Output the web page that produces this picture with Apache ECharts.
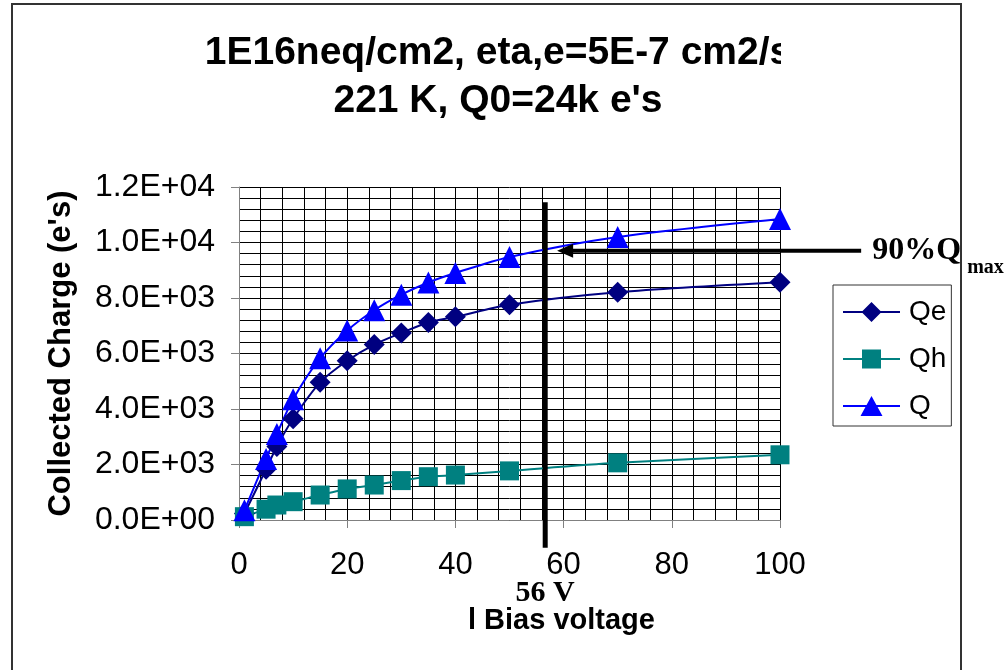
<!DOCTYPE html>
<html>
<head>
<meta charset="utf-8">
<script src="https://cdn.jsdelivr.net/npm/echarts@6/dist/echarts.min.js"></script>
<style>
  html, body { margin: 0; padding: 0; background: #fff; }
  #main { width: 1005px; height: 670px; }
</style>
</head>
<body>
<div id="main"></div>
<script>
// bias voltage (V) and collected charge (e's)
const voltage = [1, 5, 7, 10, 15, 20, 25, 30, 35, 40, 50, 70, 100];
const qe = [230, 1830, 2650, 3650, 4960, 5740, 6320, 6740, 7120, 7320, 7760, 8210, 8570];
const qh = [120, 390, 540, 660, 900, 1120, 1260, 1420, 1560, 1620, 1770, 2060, 2350];
const qTotal = [350, 2200, 3100, 4350, 5830, 6830, 7560, 8120, 8560, 8900, 9480, 10200, 10850];

// 90% of Qmax marker
const v90 = 56.6;
const q90 = 9700;

const sans = "'Liberation Sans', Arial, sans-serif";
const serif = "'Liberation Serif', 'Times New Roman', serif";

function pairs(ys) {
  return voltage.map((v, i) => [v, ys[i]]);
}

// Excel-like scientific label, e.g. 1.2E+04
function sci(v) {
  if (v === 0) return '0.0E+00';
  const e = Math.floor(Math.log10(v) + 1e-9);
  const m = (v / Math.pow(10, e)).toFixed(1);
  return m + 'E+' + String(e).padStart(2, '0');
}

// legend icons: a short line with the marker on it (57 x 20 box)
const lineBar = 'M0 9 L57 9 L57 11 L0 11 Z ';
const iconQe = 'path://' + lineBar + 'M18.5 10 L28.5 0 L38.5 10 L28.5 20 Z';
const iconQh = 'path://' + lineBar + 'M19 0.5 L38 0.5 L38 19.5 L19 19.5 Z';
const iconQ = 'path://' + lineBar + 'M28.5 0 L39.5 20 L17.5 20 Z';

const container = document.getElementById('main');
const myChart = echarts.init(container, null, { renderer: 'canvas' });

myChart.setOption({
  animation: false,
  backgroundColor: '#fff',
  title: {
    text: "1E16neq/cm2, eta,e=5E-7 cm2/s\n221 K, Q0=24k e's",
    left: 493,
    top: 24,
    textAlign: 'center',
    textStyle: {
      fontFamily: sans,
      fontSize: 39,
      fontWeight: 'bold',
      color: '#000',
      lineHeight: 48
    }
  },
  legend: {
    orient: 'vertical',
    left: 833,
    top: 285,
    padding: [13, 5, 6, 10],
    borderColor: '#333',
    borderWidth: 1,
    itemWidth: 57,
    itemHeight: 20,
    itemGap: 19,
    textStyle: { fontFamily: sans, fontSize: 28, color: '#000', padding: [0, 0, 0, 4] },
    data: [
      { name: 'Qe', icon: iconQe },
      { name: 'Qh', icon: iconQh },
      { name: 'Q', icon: iconQ }
    ]
  },
  grid: { left: 239, right: 225, top: 187, bottom: 150 },
  xAxis: {
    type: 'value',
    min: 0,
    max: 100,
    interval: 20,
    axisLine: { lineStyle: { color: '#808080', width: 1 } },
    axisTick: { show: true, length: 8, lineStyle: { color: '#808080' } },
    axisLabel: { fontFamily: sans, fontSize: 31, color: '#000', margin: 30 },
    splitLine: { show: true, lineStyle: { color: '#000', width: 1 } },
    minorTick: { show: false, splitNumber: 5 },
    minorSplitLine: { show: true, lineStyle: { color: '#000', width: 1 } }
  },
  yAxis: {
    type: 'value',
    min: 0,
    max: 12000,
    interval: 2000,
    name: "Collected Charge (e's)",
    nameLocation: 'middle',
    nameGap: 162,
    nameTextStyle: { fontFamily: sans, fontSize: 31, fontWeight: 'bold', color: '#000' },
    axisLine: { show: true, lineStyle: { color: '#808080', width: 1 } },
    axisTick: { show: true, length: 8, lineStyle: { color: '#808080' } },
    axisLabel: { fontFamily: sans, fontSize: 32, color: '#000', margin: 24, formatter: sci },
    splitLine: { show: true, lineStyle: { color: '#000', width: 1 } },
    minorTick: { show: false, splitNumber: 5 },
    minorSplitLine: { show: true, lineStyle: { color: '#000', width: 1 } }
  },
  series: [
    {
      name: 'Qe',
      type: 'line',
      smooth: 0.3,
      data: pairs(qe),
      symbol: 'diamond',
      symbolSize: 21,
      itemStyle: { color: '#000080' },
      lineStyle: { color: '#000080', width: 2 }
    },
    {
      name: 'Qh',
      type: 'line',
      smooth: 0.3,
      data: pairs(qh),
      symbol: 'rect',
      symbolSize: 19,
      itemStyle: { color: '#008080' },
      lineStyle: { color: '#008080', width: 2 }
    },
    {
      name: 'Q',
      type: 'line',
      smooth: 0.3,
      data: pairs(qTotal),
      symbol: 'triangle',
      symbolSize: 22,
      itemStyle: { color: '#0000ff' },
      lineStyle: { color: '#0000ff', width: 2 }
    }
  ]
});

// annotations placed through the axes
const top90 = myChart.convertToPixel({ gridIndex: 0 }, [v90, 11450]);
const bot90 = myChart.convertToPixel({ gridIndex: 0 }, [v90, -1000]);
const arrowFrom = myChart.convertToPixel({ gridIndex: 0 }, [115, q90]);
const arrowTo = myChart.convertToPixel({ gridIndex: 0 }, [58.8, q90]);

myChart.setOption({
  graphic: [
    {
      type: 'rect',
      z: 100,
      shape: { x: 12, y: 4, width: 949, height: 700 },
      style: { fill: 'none', stroke: '#333', lineWidth: 2 }
    },
    {
      // title runs past its box in the original; hide the tail of the "s"
      type: 'rect',
      z: 90,
      shape: { x: 781, y: 26, width: 177, height: 50 },
      style: { fill: '#fff' }
    },
    {
      type: 'line',
      z: 100,
      shape: { x1: top90[0], y1: top90[1], x2: bot90[0], y2: bot90[1] },
      style: { stroke: '#000', lineWidth: 5 }
    },
    {
      type: 'line',
      z: 100,
      shape: { x1: arrowFrom[0], y1: arrowFrom[1], x2: arrowTo[0] + 10, y2: arrowTo[1] },
      style: { stroke: '#000', lineWidth: 4 }
    },
    {
      type: 'polygon',
      z: 100,
      shape: {
        points: [
          [arrowTo[0], arrowTo[1]],
          [arrowTo[0] + 16, arrowTo[1] - 7],
          [arrowTo[0] + 16, arrowTo[1] + 7]
        ]
      },
      style: { fill: '#000' }
    },
    {
      type: 'text',
      z: 100,
      x: arrowFrom[0] + 11,
      y: arrowFrom[1],
      style: {
        text: '90%Q',
        font: 'bold 32px ' + serif,
        fill: '#000',
        verticalAlign: 'middle'
      }
    },
    {
      type: 'text',
      z: 100,
      x: arrowFrom[0] + 106,
      y: arrowFrom[1] + 17,
      style: {
        text: 'max',
        font: 'bold 20px ' + serif,
        fill: '#000',
        verticalAlign: 'middle'
      }
    },
    {
      type: 'text',
      z: 100,
      x: bot90[0],
      y: 593,
      style: {
        text: '56 V',
        font: 'bold 30px ' + serif,
        fill: '#000',
        align: 'center',
        verticalAlign: 'middle'
      }
    },
    {
      type: 'text',
      z: 100,
      x: 468,
      y: 621,
      style: {
        text: 'l Bias voltage',
        font: 'bold 29px ' + sans,
        fill: '#000',
        verticalAlign: 'middle'
      }
    }
  ]
});

let resizeObserver = new ResizeObserver(() => myChart?.resize());
resizeObserver.observe(container);
</script>
</body>
</html>
